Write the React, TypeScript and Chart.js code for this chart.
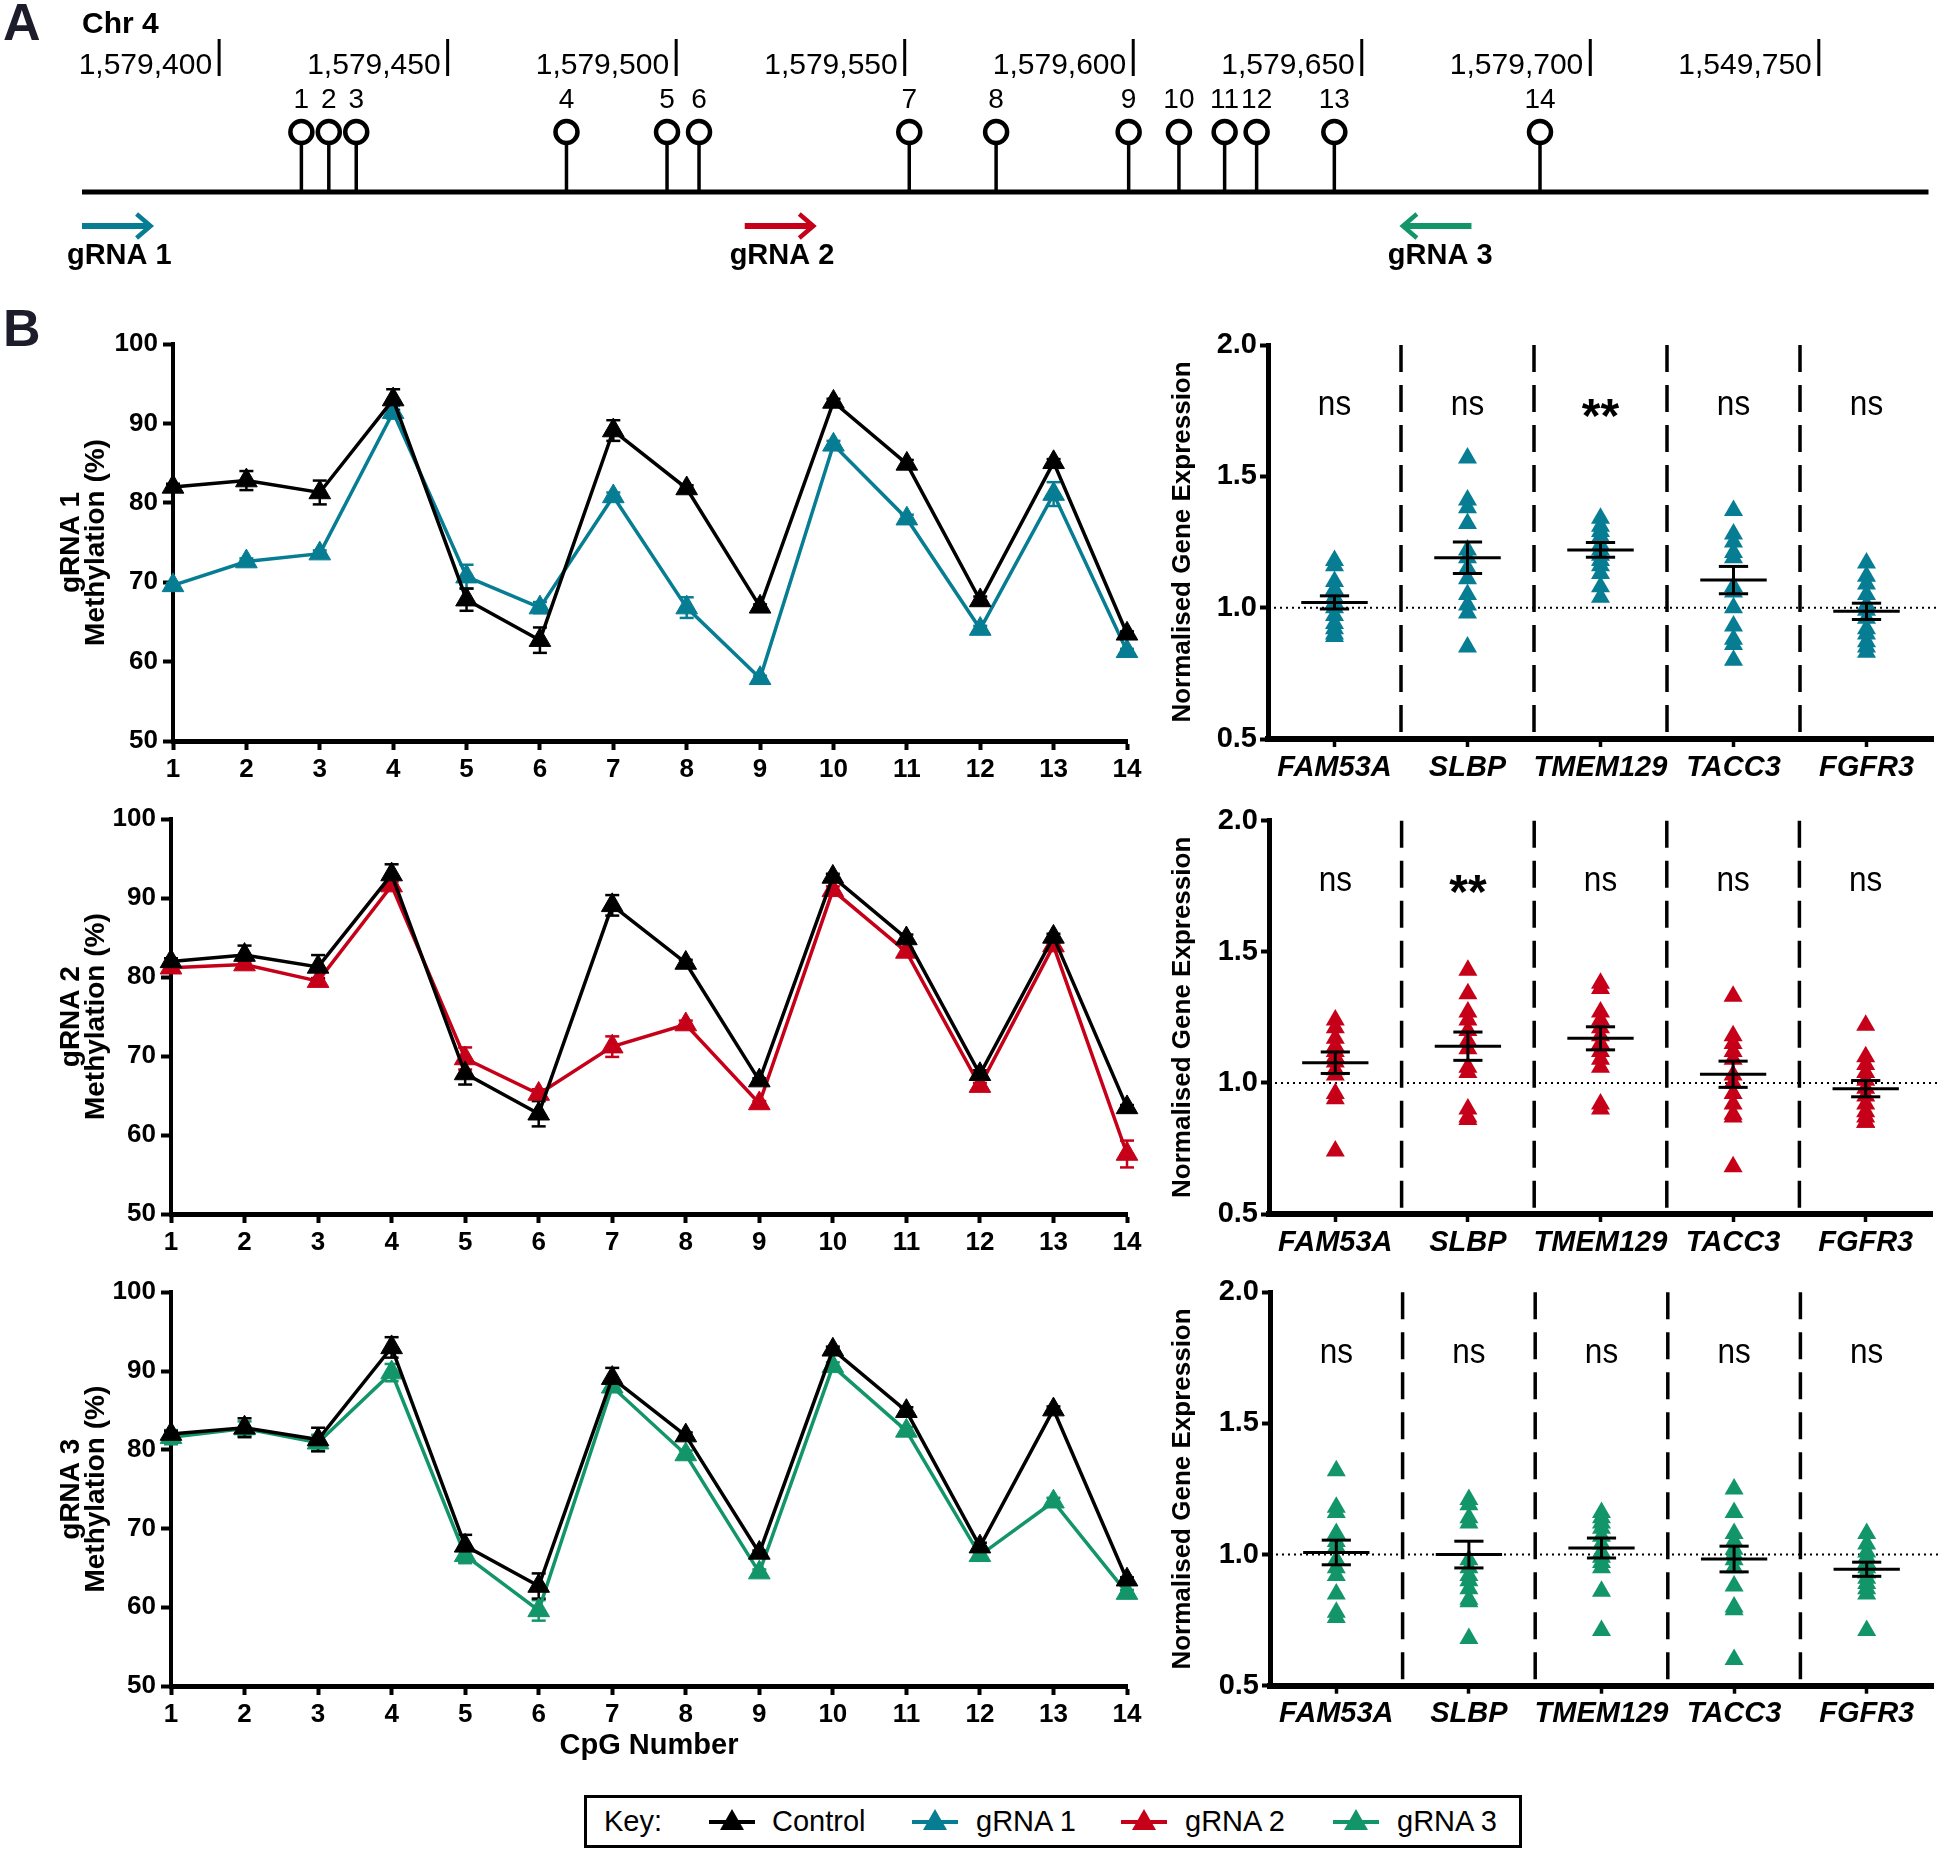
import React, { useEffect, useRef } from 'react';
import { Chart, registerables } from 'chart.js';

Chart.register(...registerables);

const SANS = "'Liberation Sans', Arial, Helvetica, sans-serif";

/* ---------------- Panel A : CpG map ---------------- */
const CHROMOSOME = 'Chr 4';
const CPG_NUMBERS = [1, 2, 3, 4, 5, 6, 7, 8, 9, 10, 11, 12, 13, 14];
const CPG_POSITIONS = [1579418, 1579424, 1579430, 1579476, 1579498, 1579505, 1579551, 1579570, 1579599, 1579610, 1579620, 1579627, 1579644, 1579689];
const GENOME_TICKS = [1579400, 1579450, 1579500, 1579550, 1579600, 1579650, 1579700, 1579750];
const GENOME_TICK_LABELS = ['1,579,400', '1,579,450', '1,579,500', '1,579,550', '1,579,600', '1,579,650', '1,579,700', '1,549,750'];
const GENOME_MIN = 1579370;
const GENOME_MAX = 1579774;
const GUIDE_NAMES = ['gRNA 1', 'gRNA 2', 'gRNA 3'];
const GUIDE_FROM = [1579370, 1579515, 1579674];
const GUIDE_TO = [1579385, 1579530, 1579659];

/* ---------------- Panel B : methylation (%) ---------------- */
const METH_CONTROL = [82.0, 82.8, 81.3, 93.0, 67.8, 62.7, 89.1, 81.8, 66.9, 92.7, 84.9, 67.7, 85.1, 63.5];
const METH_CONTROL_SEM = [0.4, 1.2, 1.5, 1.3, 1.4, 1.6, 1.3, 0.4, 0.3, 0.4, 0.5, 0.5, 0.4, 0.3];
const METH_GRNA1 = [69.6, 72.6, 73.6, 91.4, 70.7, 66.8, 80.8, 66.8, 57.9, 87.3, 78.0, 64.1, 81.1, 61.3];
const METH_GRNA1_SEM = [0.3, 0.4, 0.4, 0.8, 1.5, 0.7, 0.5, 1.3, 0.3, 0.5, 0.5, 0.4, 1.5, 0.3];
const METH_GRNA2 = [81.2, 81.6, 79.5, 91.6, 69.7, 65.2, 71.2, 74.0, 64.0, 91.0, 83.2, 66.2, 84.0, 57.6];
const METH_GRNA2_SEM = [0.4, 0.4, 0.4, 0.5, 1.4, 0.6, 1.3, 0.5, 0.3, 0.5, 0.5, 0.4, 0.4, 1.7];
const METH_GRNA3 = [81.6, 82.7, 80.9, 89.8, 66.6, 59.6, 88.0, 79.4, 64.4, 90.6, 82.4, 66.6, 73.4, 61.8];
const METH_GRNA3_SEM = [0.9, 0.9, 1.0, 1.1, 1.0, 1.3, 0.5, 0.5, 0.4, 0.5, 0.5, 0.4, 0.5, 0.4];

/* ---------------- Panel B : normalised gene expression ---------------- */
const GENES = ['FAM53A', 'SLBP', 'TMEM129', 'TACC3', 'FGFR3'];
const EXPR_GRNA1 = [
  [1.18, 1.16, 1.10, 1.07, 1.04, 1.02, 1.00, 0.97, 0.94, 0.92, 0.90, 0.89],
  [1.57, 1.41, 1.38, 1.32, 1.22, 1.19, 1.15, 1.11, 1.05, 1.01, 0.98, 0.85],
  [1.34, 1.31, 1.29, 1.27, 1.24, 1.22, 1.20, 1.18, 1.16, 1.13, 1.08, 1.04],
  [1.37, 1.28, 1.25, 1.21, 1.19, 1.08, 1.06, 1.00, 0.93, 0.88, 0.86, 0.80],
  [1.17, 1.12, 1.09, 1.05, 1.01, 0.99, 0.96, 0.92, 0.90, 0.87, 0.85, 0.83],
];
const EXPR_GRNA2 = [
  [1.24, 1.21, 1.17, 1.14, 1.12, 1.10, 1.08, 1.05, 1.03, 0.96, 0.94, 0.74],
  [1.43, 1.34, 1.27, 1.24, 1.20, 1.16, 1.13, 1.06, 1.04, 0.90, 0.87, 0.86],
  [1.38, 1.36, 1.27, 1.24, 1.21, 1.18, 1.15, 1.12, 1.09, 1.06, 0.92, 0.90],
  [1.33, 1.18, 1.15, 1.12, 1.09, 1.03, 1.00, 0.96, 0.92, 0.88, 0.87, 0.68],
  [1.22, 1.10, 1.07, 1.04, 1.01, 0.98, 0.95, 0.92, 0.89, 0.87, 0.85, 0.85],
];
const EXPR_GRNA3 = [
  [1.32, 1.18, 1.16, 1.08, 1.05, 1.03, 0.98, 0.95, 0.92, 0.85, 0.78, 0.76],
  [1.21, 1.19, 1.14, 1.12, 0.98, 0.95, 0.92, 0.90, 0.87, 0.83, 0.82, 0.68],
  [1.16, 1.14, 1.12, 1.10, 1.07, 1.04, 1.01, 0.99, 0.97, 0.95, 0.86, 0.71],
  [1.25, 1.16, 1.08, 1.05, 1.02, 1.00, 0.98, 0.95, 0.88, 0.80, 0.79, 0.60],
  [1.08, 1.04, 1.01, 0.99, 0.97, 0.95, 0.93, 0.91, 0.89, 0.87, 0.85, 0.71],
];
const EXPR_MEAN_GRNA1 = [1.02, 1.19, 1.22, 1.105, 0.986];
const EXPR_SEM_GRNA1 = [0.025, 0.06, 0.028, 0.052, 0.031];
const EXPR_MEAN_GRNA2 = [1.077, 1.14, 1.17, 1.033, 0.978];
const EXPR_SEM_GRNA2 = [0.041, 0.054, 0.044, 0.05, 0.031];
const EXPR_MEAN_GRNA3 = [1.008, 1.0, 1.025, 0.983, 0.944];
const EXPR_SEM_GRNA3 = [0.047, 0.051, 0.038, 0.049, 0.027];
const SIG_GRNA1 = ['ns', 'ns', '**', 'ns', 'ns'];
const SIG_GRNA2 = ['ns', '**', 'ns', 'ns', 'ns'];
const SIG_GRNA3 = ['ns', 'ns', 'ns', 'ns', 'ns'];

const KEY_LABELS = ['Control', 'gRNA 1', 'gRNA 2', 'gRNA 3'];
const COLORS = ['#000000', '#067D93', '#C50018', '#13956A'];

/* ---------------- plugins ---------------- */
const line = (ctx: any, x1: number, y1: number, x2: number, y2: number) => {
  ctx.beginPath();
  ctx.moveTo(x1, y1);
  ctx.lineTo(x2, y2);
  ctx.stroke();
};

const genomePlugin = {
  id: 'genomeMap',
  beforeDatasetsDraw(chart: any) {
    const { ctx, chartArea, scales } = chart;
    const x = scales.x, y = scales.y;
    const y0 = y.getPixelForValue(0), y1 = y.getPixelForValue(1);
    ctx.save();
    ctx.strokeStyle = '#000';
    ctx.lineWidth = 5;
    line(ctx, chartArea.left, y0, chartArea.right, y0);
    ctx.lineWidth = 3.5;
    CPG_POSITIONS.forEach((p) => {
      const px = x.getPixelForValue(p);
      line(ctx, px, y1, px, y0);
    });
    ctx.restore();
  },
  afterDatasetsDraw(chart: any) {
    const { ctx, chartArea, scales } = chart;
    const x = scales.x, y = scales.y;
    const y0 = y.getPixelForValue(0), y1 = y.getPixelForValue(1);
    ctx.save();
    ctx.fillStyle = '#000';
    ctx.strokeStyle = '#000';
    ctx.font = `bold 30px ${SANS}`;
    ctx.textAlign = 'left';
    ctx.textBaseline = 'alphabetic';
    ctx.fillText(CHROMOSOME, chartArea.left, y1 - 99);
    ctx.font = `30px ${SANS}`;
    ctx.textAlign = 'right';
    ctx.lineWidth = 3;
    GENOME_TICKS.forEach((t, i) => {
      const px = x.getPixelForValue(t);
      line(ctx, px, y1 - 93, px, y1 - 56);
      ctx.fillText(GENOME_TICK_LABELS[i], px - 7, y1 - 58);
    });
    ctx.font = `28px ${SANS}`;
    ctx.textAlign = 'center';
    CPG_POSITIONS.forEach((p, i) => {
      ctx.fillText(String(CPG_NUMBERS[i]), x.getPixelForValue(p), y1 - 24);
    });
    const ay = y0 + 34;
    GUIDE_NAMES.forEach((name, i) => {
      const fx = x.getPixelForValue(GUIDE_FROM[i]);
      const tx = x.getPixelForValue(GUIDE_TO[i]);
      const dir = tx > fx ? 1 : -1;
      ctx.strokeStyle = COLORS[i + 1];
      ctx.lineCap = 'butt';
      ctx.lineWidth = 6;
      line(ctx, fx, ay, tx - dir * 2, ay);
      ctx.lineWidth = 4.5;
      ctx.lineJoin = 'miter';
      ctx.beginPath();
      ctx.moveTo(tx - dir * 14, ay - 12);
      ctx.lineTo(tx, ay);
      ctx.lineTo(tx - dir * 14, ay + 12);
      ctx.stroke();
      ctx.fillStyle = '#000';
      ctx.font = `bold 29px ${SANS}`;
      ctx.textAlign = 'center';
      ctx.fillText(name, (fx + tx) / 2 + 3, y0 + 72);
    });
    ctx.restore();
  },
};

const errorBarPlugin = {
  id: 'errorBars',
  beforeDatasetsDraw(chart: any) {
    const { ctx, scales } = chart;
    const x = scales.x, y = scales.y;
    ctx.save();
    ctx.lineWidth = 2.5;
    const sets = chart.data.datasets.slice().reverse();
    sets.forEach((ds: any) => {
      if (!ds.sem) return;
      ctx.strokeStyle = ds.borderColor;
      ds.data.forEach((pt: any, i: number) => {
        const px = x.getPixelForValue(pt.x);
        const hi = y.getPixelForValue(pt.y + ds.sem[i]);
        const lo = y.getPixelForValue(pt.y - ds.sem[i]);
        line(ctx, px, hi, px, lo);
        line(ctx, px - 7, hi, px + 7, hi);
        line(ctx, px - 7, lo, px + 7, lo);
      });
    });
    ctx.restore();
  },
};

const SIG_LEVEL = 1.785;

const expressionPlugin = {
  id: 'expression',
  beforeDatasetsDraw(chart: any) {
    const { ctx, chartArea, scales } = chart;
    const x = scales.x, y = scales.y;
    ctx.save();
    ctx.strokeStyle = '#000';
    ctx.lineWidth = 3.5;
    ctx.setLineDash([27, 13]);
    for (let k = 1; k < GENES.length; k++) {
      const px = x.getPixelForValue(k + 0.5);
      line(ctx, px, chartArea.top, px, chartArea.bottom);
    }
    ctx.lineWidth = 2;
    ctx.setLineDash([2, 4]);
    const py = y.getPixelForValue(1);
    line(ctx, chartArea.left, py, chartArea.right + 6, py);
    ctx.restore();
  },
  afterDatasetsDraw(chart: any) {
    const { ctx, scales } = chart;
    const x = scales.x, y = scales.y;
    const ds: any = chart.data.datasets[0];
    ctx.save();
    ctx.strokeStyle = '#000';
    ctx.fillStyle = '#000';
    ctx.lineWidth = 3;
    ds.means.forEach((m: number, i: number) => {
      const cx = x.getPixelForValue(i + 1);
      const half = x.getPixelForValue(i + 1.25) - cx;
      const cap = x.getPixelForValue(i + 1.11) - cx;
      const ym = y.getPixelForValue(m);
      const yh = y.getPixelForValue(m + ds.sems[i]);
      const yl = y.getPixelForValue(m - ds.sems[i]);
      line(ctx, cx - half, ym, cx + half, ym);
      line(ctx, cx, yh, cx, yl);
      line(ctx, cx - cap, yh, cx + cap, yh);
      line(ctx, cx - cap, yl, cx + cap, yl);
    });
    const yc = y.getPixelForValue(SIG_LEVEL);
    ctx.textAlign = 'center';
    ctx.textBaseline = 'alphabetic';
    ds.sig.forEach((s: string, i: number) => {
      const cx = x.getPixelForValue(i + 1);
      if (s === 'ns') {
        ctx.save();
        ctx.translate(cx, yc + 14);
        ctx.scale(0.9, 1);
        ctx.font = `35px ${SANS}`;
        ctx.fillText(s, 0, 0);
        ctx.restore();
      } else {
        ctx.font = `bold 48px ${SANS}`;
        ctx.fillText(s, cx, yc + 31);
      }
    });
    ctx.restore();
  },
};

/* ---------------- configs ---------------- */
const baseOptions = {
  responsive: false,
  animation: false,
  devicePixelRatio: 1,
  events: [],
  plugins: { legend: { display: false }, tooltip: { enabled: false } },
};

function genomeConfig(W: number, H: number) {
  return {
    type: 'scatter',
    data: {
      datasets: [{
        data: CPG_POSITIONS.map((p) => ({ x: p, y: 1 })),
        pointStyle: 'circle',
        pointRadius: 11,
        pointBorderWidth: 4.5,
        pointBackgroundColor: '#ffffff',
        pointBorderColor: '#000000',
        clip: false,
      }],
    },
    options: {
      ...baseOptions,
      layout: { padding: { left: 82, right: W - 1930, top: 132, bottom: H - 192 } },
      scales: {
        x: { type: 'linear', display: false, min: GENOME_MIN, max: GENOME_MAX },
        y: { type: 'linear', display: false, min: 0, max: 1 },
      },
    },
    plugins: [genomePlugin],
  };
}

const LINE_PANELS = [
  { guide: 'gRNA 1', values: METH_GRNA1, sem: METH_GRNA1_SEM, color: COLORS[1], top: 320, height: 481, areaTop: 344, areaBottom: 741, axisX: 173, xTitle: false },
  { guide: 'gRNA 2', values: METH_GRNA2, sem: METH_GRNA2_SEM, color: COLORS[2], top: 795, height: 479, areaTop: 819.3, areaBottom: 1214, axisX: 171, xTitle: false },
  { guide: 'gRNA 3', values: METH_GRNA3, sem: METH_GRNA3_SEM, color: COLORS[3], top: 1268, height: 518, areaTop: 1292.3, areaBottom: 1686, axisX: 171, xTitle: true },
];

function methylationConfig(p: any, W: number, H: number) {
  const mk = (label: string, vals: number[], sem: number[], color: string) => ({
    label,
    data: CPG_NUMBERS.map((n, i) => ({ x: n, y: vals[i] })),
    sem,
    borderColor: color,
    backgroundColor: color,
    borderWidth: 3.5,
    pointStyle: 'triangle',
    pointRadius: 12.5,
    pointBackgroundColor: color,
    pointBorderColor: color,
    pointBorderWidth: 1,
    tension: 0,
    clip: false,
  });
  const xH = H - (p.areaBottom - p.top);
  return {
    type: 'line',
    data: {
      datasets: [
        mk('Control', METH_CONTROL, METH_CONTROL_SEM, COLORS[0]),
        mk(p.guide, p.values, p.sem, p.color),
      ],
    },
    options: {
      ...baseOptions,
      layout: { padding: { left: 0, right: W - 1127, top: p.areaTop - p.top, bottom: 0 } },
      scales: {
        x: {
          type: 'linear', min: 1, max: 14,
          ticks: { stepSize: 1, autoSkip: false, maxRotation: 0, color: '#000', padding: 4, font: { family: SANS, size: 26, weight: 'bold', lineHeight: 1.2 } },
          grid: { drawOnChartArea: false, drawTicks: true, tickLength: 9, tickWidth: 4, tickColor: '#000' },
          border: { display: true, width: 5, color: '#000' },
          title: { display: p.xTitle, text: 'CpG Number', color: '#000', font: { family: SANS, size: 29, weight: 'bold', lineHeight: 1.2 }, padding: { top: 0, bottom: 23 } },
          afterFit: (s: any) => { s.height = xH; },
        },
        y: {
          type: 'linear', min: 50, max: 100,
          ticks: { stepSize: 10, color: '#000', padding: 5, font: { family: SANS, size: 26, weight: 'bold', lineHeight: 1.2 } },
          grid: { drawOnChartArea: false, drawTicks: true, tickLength: 10, tickWidth: 4, tickColor: '#000' },
          border: { display: true, width: 4, color: '#000' },
          title: { display: true, text: [p.guide, 'Methylation (%)'], color: '#000', font: { family: SANS, size: 28, weight: 'bold', lineHeight: 0.88 }, padding: { top: 59, bottom: 0 } },
          afterFit: (s: any) => { s.width = p.axisX; },
        },
      },
    },
    plugins: [errorBarPlugin],
  };
}

const EXPR_PANELS = [
  { values: EXPR_GRNA1, means: EXPR_MEAN_GRNA1, sems: EXPR_SEM_GRNA1, sig: SIG_GRNA1, color: COLORS[1], top: 320, height: 481, areaTop: 345, areaBottom: 739, axisX: 1268, areaRight: 1933 },
  { values: EXPR_GRNA2, means: EXPR_MEAN_GRNA2, sems: EXPR_SEM_GRNA2, sig: SIG_GRNA2, color: COLORS[2], top: 795, height: 481, areaTop: 820.7, areaBottom: 1214, axisX: 1269, areaRight: 1932 },
  { values: EXPR_GRNA3, means: EXPR_MEAN_GRNA3, sems: EXPR_SEM_GRNA3, sig: SIG_GRNA3, color: COLORS[3], top: 1268, height: 480, areaTop: 1292.3, areaBottom: 1685.7, axisX: 1270, areaRight: 1939 },
];
const EXPR_LEFT = 1150;

function expressionConfig(p: any, W: number, H: number) {
  const xH = H - (p.areaBottom - p.top);
  return {
    type: 'scatter',
    data: {
      datasets: [{
        data: p.values.flatMap((vals: number[], gi: number) => vals.map((v) => ({ x: gi + 1, y: v }))),
        means: p.means,
        sems: p.sems,
        sig: p.sig,
        pointStyle: 'triangle',
        pointRadius: 11,
        pointBackgroundColor: p.color,
        pointBorderColor: p.color,
        pointBorderWidth: 0,
        clip: false,
      }],
    },
    options: {
      ...baseOptions,
      layout: { padding: { left: 0, right: W - (p.areaRight - EXPR_LEFT), top: p.areaTop - p.top, bottom: 0 } },
      scales: {
        x: {
          type: 'linear', min: 0.5, max: GENES.length + 0.5,
          afterBuildTicks: (s: any) => { s.ticks = GENES.map((_, i) => ({ value: i + 1 })); },
          ticks: {
            autoSkip: false, maxRotation: 0, color: '#000', padding: 6,
            callback: (v: any) => GENES[Math.round(Number(v)) - 1],
            font: { family: SANS, size: 29, weight: 'bold', style: 'italic', lineHeight: 1.0 },
          },
          grid: { drawOnChartArea: false, drawTicks: true, tickLength: 8, tickWidth: 3.5, tickColor: '#000' },
          border: { display: true, width: 6, color: '#000' },
          afterFit: (s: any) => { s.height = xH; },
        },
        y: {
          type: 'linear', min: 0.5, max: 2.0,
          ticks: { stepSize: 0.5, color: '#000', padding: 3, callback: (v: any) => Number(v).toFixed(1), font: { family: SANS, size: 29, weight: 'bold', lineHeight: 1.2 } },
          grid: { drawOnChartArea: false, drawTicks: true, tickLength: 8, tickWidth: 4, tickColor: '#000' },
          border: { display: true, width: 5, color: '#000' },
          title: { display: true, text: 'Normalised Gene Expression', color: '#000', font: { family: SANS, size: 26, weight: 'bold', lineHeight: 1.2 }, padding: { top: 17, bottom: 0 } },
          afterFit: (s: any) => { s.width = p.axisX - EXPR_LEFT; },
        },
      },
    },
    plugins: [expressionPlugin],
  };
}

/* ---------------- components ---------------- */
function ChartBox({ left, top, width, height, make }: any) {
  const ref = useRef<HTMLCanvasElement>(null);
  useEffect(() => {
    const chart = new Chart(ref.current as any, make(width, height) as any);
    return () => chart.destroy();
  }, []);
  return (
    <canvas
      ref={ref}
      width={width}
      height={height}
      style={{ position: 'absolute', left, top, width, height, display: 'block' }}
    />
  );
}

function KeyMarker({ color }: { color: string }) {
  return (
    <svg width={46} height={24} viewBox="0 0 46 24" style={{ display: 'block' }}>
      <line x1={0} y1={14} x2={46} y2={14} stroke={color} strokeWidth={4} />
      <polygon points="23,1 35,22 11,22" fill={color} />
    </svg>
  );
}

function Key() {
  const innerLeft = 587;
  const markerCenters = [732, 935, 1144, 1356];
  const textLefts = [772, 976, 1185, 1397];
  const text: any = { position: 'absolute', top: 0, height: 47, lineHeight: '47px', fontFamily: SANS, fontSize: 29, color: '#000', whiteSpace: 'nowrap' };
  return (
    <div style={{ position: 'absolute', left: 584, top: 1795, width: 938, height: 53, border: '3px solid #000', boxSizing: 'border-box', background: '#fff' }}>
      <div style={{ ...text, left: 604 - innerLeft }}>Key:</div>
      {KEY_LABELS.map((lab, i) => (
        <React.Fragment key={lab}>
          <div style={{ position: 'absolute', left: markerCenters[i] - 23 - innerLeft, top: 10 }}>
            <KeyMarker color={COLORS[i]} />
          </div>
          <div style={{ ...text, left: textLefts[i] - innerLeft }}>{lab}</div>
        </React.Fragment>
      ))}
    </div>
  );
}

export default function App() {
  useEffect(() => {
    document.body.style.margin = '0';
    document.body.style.background = '#fff';
  }, []);
  const letter: any = { position: 'absolute', left: 3, fontFamily: SANS, fontWeight: 'bold', fontSize: 52, lineHeight: '52px', color: '#1c1c2a' };
  return (
    <div style={{ position: 'absolute', left: 0, top: 0, width: 1944, height: 1852, background: '#fff', overflow: 'hidden' }}>
      <ChartBox left={0} top={0} width={1944} height={290} make={genomeConfig} />
      <div style={{ ...letter, top: -4 }}>A</div>
      <div style={{ ...letter, top: 302 }}>B</div>
      {LINE_PANELS.map((p) => (
        <ChartBox key={p.guide} left={0} top={p.top} width={1160} height={p.height} make={(w: number, h: number) => methylationConfig(p, w, h)} />
      ))}
      {EXPR_PANELS.map((p, i) => (
        <ChartBox key={'e' + i} left={EXPR_LEFT} top={p.top} width={1944 - EXPR_LEFT} height={p.height} make={(w: number, h: number) => expressionConfig(p, w, h)} />
      ))}
      <Key />
    </div>
  );
}
